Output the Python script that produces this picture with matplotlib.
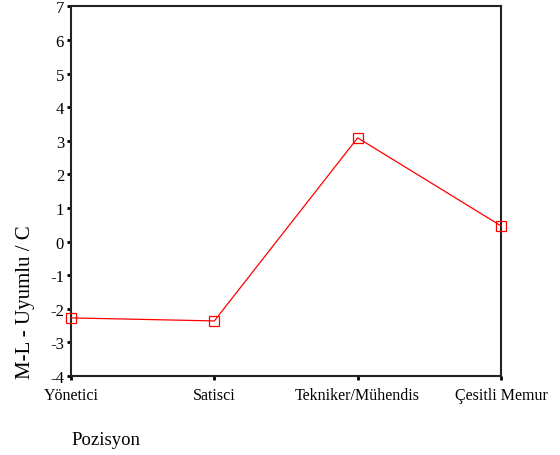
import numpy as np
import matplotlib.pyplot as plt

plt.rcParams['font.family'] = ['Liberation Serif', 'DejaVu Serif']

categories = ['Yönetici', 'Satisci', 'Tekniker/Mühendis', 'Çesitli Memur']
values = [-2.27, -2.36, 3.09, 0.47]
yticks = list(range(-4, 8))

fig = plt.figure(figsize=(5.6, 4.56), dpi=100)
ax = fig.add_axes([0.1268, 0.1732, 0.7678, 0.8104])

x = np.arange(len(categories))
ax.plot(x, values, color='red', lw=0.9, marker='s', markersize=7,
        markerfacecolor='none', markeredgecolor='red', markeredgewidth=0.9,
        clip_on=False, zorder=3)

ax.set_xlim(0, len(categories) - 1)
ax.set_ylim(-4, 7)
ax.set_xticks(x)
ax.set_xticklabels(categories, fontsize=11.5)
ax.set_yticks(yticks)
ax.set_yticklabels([str(t) for t in yticks], fontsize=12)
ax.tick_params(axis='both', direction='out', length=3, width=2, color='black')
ax.tick_params(axis='x', pad=5)
ax.tick_params(axis='y', pad=2)

for s in ax.spines.values():
    s.set_linewidth(1.5)
    s.set_color('#222222')

fig.text(0.045, 0.338, 'M-L - Uyumlu / C', rotation=90, fontsize=15,
         ha='center', va='center')
fig.text(0.128, 0.035, 'Pozisyon', fontsize=13.5, ha='left', va='center')

fig.savefig('out.png', dpi=100)
